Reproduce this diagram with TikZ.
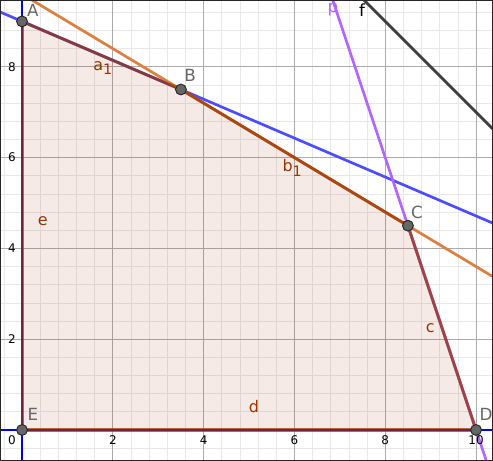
\documentclass[tikz,border=0pt]{standalone}
\usepackage{fontspec}
\setmainfont{DejaVu Sans}
\usetikzlibrary{calc}
\definecolor{polybrown}{RGB}{153,51,0}
\definecolor{lineorange}{RGB}{220,128,66}
\definecolor{lineblue}{RGB}{77,77,255}
\definecolor{axisblue}{RGB}{0,0,245}
\definecolor{linepurple}{RGB}{178,102,255}
\definecolor{linegray}{RGB}{64,64,64}
\newcommand{\lowsub}[1]{\raisebox{-0.5ex}{\fontsize{9}{9}\selectfont #1}}
\begin{document}
\begin{tikzpicture}[
        minorgrid/.style={
            draw=black!9,
            line width=0.45pt
        },
        majorgrid/.style={
            draw=black!33,
            line width=0.6pt
        },
        constraint/.style={
            line width=1.7pt
        },
        edge/.style={
            draw=polybrown,
            line width=1.9pt,
            draw opacity=0.72
        },
        vertex/.style={
            circle,
            draw=black!85,
            fill=black!60,
            line width=0.6pt,
            inner sep=0pt,
            minimum size=6.8pt
        },
        ptlabel/.style={
            text=black!60,
            font=\fontsize{10.5}{11}\selectfont,
            inner sep=0pt
        },
        seglabel/.style={
            text=polybrown,
            font=\fontsize{10}{11}\selectfont,
            inner sep=0pt
        },
        ticklabel/.style={
            font=\fontsize{7.5}{8}\selectfont,
            inner sep=0pt
        }
    ]

        \useasboundingbox (-0.485,-0.683) rectangle (10.374,9.471);
        \begin{scope}
        \clip (-0.485,-0.683) rectangle (10.374,9.471);

        \draw[minorgrid, step=0.4] (-0.8,-0.8) grid (10.8,9.6);
        \draw[majorgrid, step=2] (-0.8,-0.8) grid (10.8,9.6);

        \coordinate (A) at (0,9);
        \coordinate (B) at (3.5,7.5);
        \coordinate (C) at (8.5,4.5);
        \coordinate (D) at (10,0);
        \coordinate (E) at (0,0);

        \fill[polybrown, fill opacity=0.1] (A) -- (B) -- (C) -- (D) -- (E) -- cycle;

        \coordinate (ytop) at (0,9.6);
        \coordinate (ybot) at (0,-0.8);
        \coordinate (xleft) at (-0.6,0);
        \coordinate (xright) at (10.6,0);
        \coordinate (ftop) at (7,10);
        \coordinate (fbot) at (11,6);

        \draw[constraint, axisblue] (ybot) -- (ytop);
        \draw[constraint, axisblue] (xleft) -- (xright);
        \draw[constraint, lineblue] ($(A)!-1!(B)$) -- ($(A)!4!(B)$);
        \draw[constraint, lineorange] ($(B)!-1!(C)$) -- ($(B)!2!(C)$);
        \draw[constraint, linepurple] ($(C)!-2!(D)$) -- ($(C)!2!(D)$);
        \draw[constraint, linegray] (ftop) -- (fbot);

        \draw[edge] (A) -- (B);
        \draw[edge] (B) -- (C);
        \draw[edge] (C) -- (D);
        \draw[edge] (D) -- (E);
        \draw[edge] (E) -- (A);
        \end{scope}

        \foreach \x in {2,4,6,8,10} {
            \node[ticklabel] (xt\x) at (\x,-0.22) {\x};
        }
        \foreach \y in {2,4,6,8} {
            \node[ticklabel] (yt\y) at (-0.22,\y) {\y};
        }
        \node[ticklabel] (origin) at (-0.22,-0.22) {0};

        \node[vertex] (pA) at (A) {};
        \node[vertex] (pB) at (B) {};
        \node[vertex] (pC) at (C) {};
        \node[vertex] (pD) at (D) {};
        \node[vertex] (pE) at (E) {};

        \node[ptlabel] (lA) at (0.24,9.25) {A};
        \node[ptlabel] (lB) at (3.70,7.82) {B};
        \node[ptlabel] (lC) at (8.70,4.80) {C};
        \node[ptlabel] (lD) at (10.22,0.35) {D};
        \node[ptlabel] (lE) at (0.24,0.35) {E};

        \node[ptlabel, text=linepurple] (lp) at (6.85,9.25) {p};
        \node[ptlabel, text=black] (lf) at (7.49,9.25) {f};

        \node[seglabel] (la) at (1.78,7.97) {a\lowsub{1}};
        \node[seglabel] (lb) at (5.95,5.77) {b\lowsub{1}};
        \node[seglabel] (lc) at (8.99,2.25) {c};
        \node[seglabel] (ld) at (5.11,0.51) {d};
        \node[seglabel] (le) at (0.46,4.60) {e};

        \draw[black!85, line width=1.2pt] (-0.485,-0.683) rectangle (10.374,9.471);

    \end{tikzpicture}
\end{document}
